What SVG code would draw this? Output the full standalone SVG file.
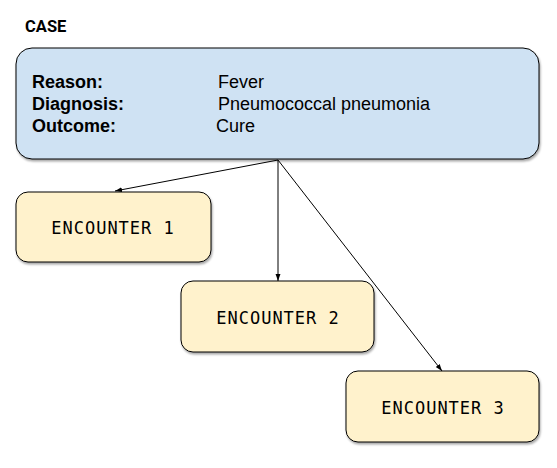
<svg xmlns="http://www.w3.org/2000/svg" width="557" height="468" viewBox="0 0 557 468">
<style>
.case{fill:#cfe2f3;stroke:#000;stroke-width:1}
.enc{fill:#fff2cc;stroke:#000;stroke-width:1}
.lbl{font-family:"Liberation Sans",Arial,sans-serif;font-size:18px;font-weight:bold;fill:#000}
.val{font-family:"Liberation Sans",Arial,sans-serif;font-size:18px;fill:#000}
.title{font-family:Roboto,"Liberation Sans",sans-serif;font-size:16.5px;font-weight:bold;fill:#000}
.mono{font-family:"DejaVu Sans Mono","Liberation Mono",monospace;font-size:17px;letter-spacing:1px;fill:#000;text-anchor:middle}
.conn{stroke:#000;stroke-width:1;fill:none;marker-end:url(#arr)}
</style>
<defs>
<filter id="sh" x="-10%" y="-10%" width="125%" height="130%">
<feDropShadow dx="1" dy="2" stdDeviation="1.3" flood-color="#000" flood-opacity="0.35"/>
</filter>
<marker id="arr" viewBox="0 0 10 10" refX="10" refY="5" markerWidth="7" markerHeight="7" orient="auto" markerUnits="userSpaceOnUse">
<path d="M0,1.5 L10,5 L0,8.5 Z" fill="#000"/>
</marker>
</defs>
<text class="title" x="25" y="32">CASE</text>
<g id="case">
<rect class="case" x="16" y="48" width="523" height="111" rx="16" ry="16" filter="url(#sh)"/>
<text class="lbl" x="32" y="88">Reason:</text>
<text class="lbl" x="32" y="110">Diagnosis:</text>
<text class="lbl" x="32" y="132">Outcome:</text>
<text class="val" x="218" y="88">Fever</text>
<text class="val" x="218" y="110">Pneumococcal pneumonia</text>
<text class="val" x="216" y="132">Cure</text>
</g>
<g id="encounter1">
<rect class="enc" x="16" y="192" width="195" height="70" rx="12" ry="12" filter="url(#sh)"/>
<text class="mono" x="113" y="234">ENCOUNTER 1</text>
</g>
<g id="encounter2">
<rect class="enc" x="181" y="281" width="193" height="71" rx="12" ry="12" filter="url(#sh)"/>
<text class="mono" x="278" y="324">ENCOUNTER 2</text>
</g>
<g id="encounter3">
<rect class="enc" x="346" y="371" width="193" height="71" rx="12" ry="12" filter="url(#sh)"/>
<text class="mono" x="443" y="414">ENCOUNTER 3</text>
</g>
<g id="connectors">
<line class="conn" x1="278" y1="160" x2="115" y2="191"/>
<line class="conn" x1="278" y1="160" x2="278" y2="281"/>
<line class="conn" x1="278" y1="160" x2="442" y2="371"/>
</g>
</svg>
